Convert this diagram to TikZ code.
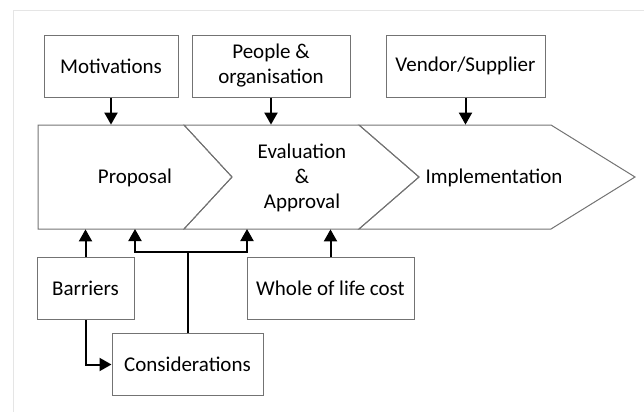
\documentclass[tikz,border=0pt]{standalone}
\usepackage{fontspec}
\setmainfont{Carlito}
\usetikzlibrary{arrows.meta}

\begin{document}
\begin{tikzpicture}[x=0.5pt, y=-0.5pt, font=\fontsize{10.5}{12.5}\selectfont]
\tikzstyle{box}=[draw=black!55, line width=0.5pt, minimum height=31pt, inner sep=0pt, align=center];
\tikzstyle{stage}=[draw=black!55, line width=0.5pt];
\tikzstyle{arr}=[line width=1pt, -{Triangle[width=6.5pt,length=6pt]}];
\useasboundingbox (0,0) rectangle (644,412);
\draw[black!10] (13,412) -- (13,10) -- (644,10);
% chevrons
\draw[stage] (38,125) -- (184,125) -- (232,177) -- (184,229) -- (38,229) -- cycle;
\draw[stage] (184,125) -- (359,125) -- (419,177) -- (359,229) -- (184,229) -- (232,177) -- cycle;
\draw[stage] (359,125) -- (551,125) -- (635,177) -- (551,229) -- (359,229) -- (419,177) -- cycle;
\path (336.5,177) node[minimum width=298.5pt, minimum height=52pt, inner sep=0pt] (band) {};
\path (135,178) node (prop) {Proposal};
\path (302,178) node[align=center] (eval) {Evaluation\\\&\\Approval};
\path (494,178) node (impl) {Implementation};
% boxes
\path (111,66) node[box, minimum width=67pt] (mot) {Motivations};
\path (271,66) node[box, minimum width=79pt] (ppl) {People \&\\organisation};
\path (465.5,66) node[box, minimum width=79.5pt] (ven) {Vendor/Supplier};
\path (85.5,288.5) node[box, minimum width=48.5pt] (bar) {Barriers};
\path (330.5,288.5) node[box, minimum width=83.5pt] (whole) {Whole of life cost};
\path (187.5,364.5) node[box, minimum width=75.5pt] (cons) {Considerations};
\coordinate (j) at (187.5,252);
\coordinate (in1) at (135,229);
\coordinate (in2) at (247,229);
\draw[arr] (mot.south) -- (mot.south |- band.north);
\draw[arr] (ppl.south) -- (ppl.south |- band.north);
\draw[arr] (ven.south) -- (ven.south |- band.north);
\draw[arr] (bar.north) -- (bar.north |- band.south);
\draw[arr] (whole.north) -- (whole.north |- band.south);
\draw[line width=1pt] (cons.north) -- (j);
\draw[arr] (j) -| (in1);
\draw[arr] (j) -| (in2);
\draw[arr] (bar.south) |- (cons.west);
\end{tikzpicture}
\end{document}
